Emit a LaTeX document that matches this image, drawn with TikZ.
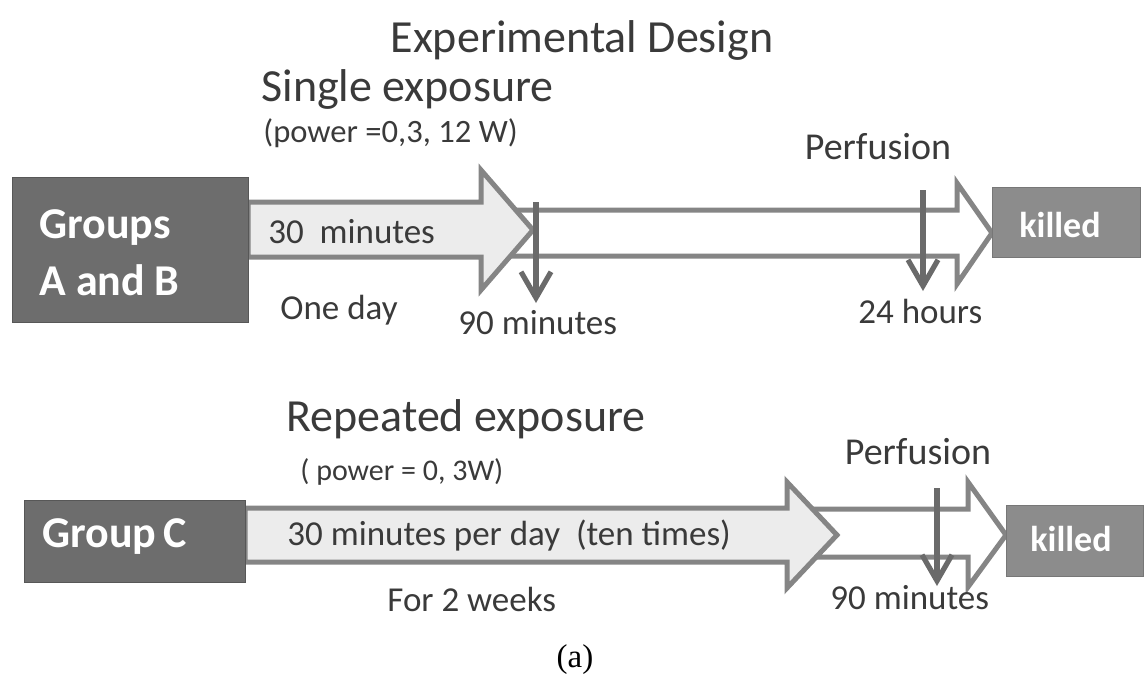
\documentclass[tikz,border=0pt]{standalone}
\usepackage{fontspec}
\setmainfont{Carlito}
\newfontfamily\timesfont{Liberation Serif}
\usetikzlibrary{arrows.meta}
\definecolor{boxdark}{HTML}{6D6D6D}
\definecolor{boxkill}{HTML}{8C8C8C}
\definecolor{arrline}{HTML}{858585}
\definecolor{arrfill}{HTML}{ECECEC}
\definecolor{txt}{HTML}{3A3A3A}
\definecolor{vline}{HTML}{6A6A6A}
\tikzset{
  groupbox/.style={fill=boxdark, draw=boxdark!80!black, line width=0.5pt, inner sep=0pt},
  killbox/.style={fill=boxkill, draw=boxkill!85!black, line width=0.5pt, inner sep=0pt},
  boxtext/.style={text=white, font=\bfseries\fontsize{22}{25}\selectfont, inner sep=0pt},
  killtext/.style={text=white, font=\bfseries\fontsize{18}{20}\selectfont, inner sep=0pt},
  bigarrow/.style={draw=arrline, line width=2.5pt, fill=arrfill, line join=miter},
  whitearrow/.style={draw=arrline, line width=2.5pt, fill=white, line join=miter},
  heading/.style={text=txt, font=\fontsize{23}{26}\selectfont, inner sep=0pt},
  label/.style={text=txt, font=\fontsize{17.5}{20}\selectfont, inner sep=0pt},
  perf/.style={text=txt, font=\fontsize{19}{22}\selectfont, inner sep=0pt},
  timearrow/.style={draw=vline, line width=2.6pt, -{Straight Barb[length=13pt,width=15pt,line width=2.6pt]}},
}
\begin{document}
\begin{tikzpicture}[x=0.5pt,y=-0.5pt]
\useasboundingbox (0,0) rectangle (1148,682);
% title
\node[heading] (title) at (582,40) {Experimental Design};
% ---------- single exposure ----------
\node[heading, anchor=west] (single) at (261,89) {Single exposure};
\node[text=txt, font=\fontsize{16.3}{18}\selectfont, inner sep=0pt, anchor=west] (pow1) at (263,133) {(power =0,3, 12 W)};
\node[perf] (perf1) at (878,147) {Perfusion};
% white arrow then grey arrow
\draw[whitearrow] (490,210) -- (957,210) -- (957,183) -- (992,233) -- (957,284) -- (957,256) -- (490,256) -- cycle;
\draw[bigarrow] (248,202) -- (481,202) -- (481,170) -- (533,230) -- (481,290) -- (481,257) -- (248,257) -- cycle;
\node[groupbox, minimum width=236*0.5pt, minimum height=145*0.5pt, anchor=north west] (gab) at (12,177) {};
\node[boxtext, anchor=west] (gabt1) at (39,228) {Groups};
\node[boxtext, anchor=west] (gabt2) at (39,280) {A and B};
\node[killbox, minimum width=148*0.5pt, minimum height=70*0.5pt, anchor=north west] (kill1) at (992,187) {};
\node[killtext] (kill1t) at (1060,225) {killed};
\node[label, anchor=west] (t30) at (268,232) {30~ minutes};
\node[label, anchor=west] (oneday) at (280,310) {One day};
\node[label, anchor=west] (m90a) at (458,323) {90 minutes};
\node[label, anchor=west] (h24) at (858,311) {24 hours};
\coordinate (v1s) at (536,202);
\coordinate (v1e) at (536,303);
\coordinate (v2s) at (923,190);
\coordinate (v2e) at (923,291);
\draw[timearrow] (v1s) -- (v1e);
\draw[timearrow] (v2s) -- (v2e);
% ---------- repeated exposure ----------
\node[heading, anchor=west] (rep) at (286,419) {Repeated exposure};
\node[text=txt, font=\fontsize{15}{18}\selectfont, inner sep=0pt, anchor=west] (pow2) at (300,472) {( power = 0, 3W)};
\node[perf] (perf2) at (918,452) {Perfusion};
\draw[whitearrow] (800,509) -- (968,509) -- (968,482) -- (1006,535) -- (968,587) -- (968,557) -- (800,557) -- cycle;
\draw[bigarrow] (245,508) -- (787,508) -- (787,482) -- (837,535) -- (787,588) -- (787,562) -- (245,562) -- cycle;
\node[groupbox, minimum width=221*0.5pt, minimum height=82*0.5pt, anchor=north west] (gc) at (24,500) {};
\node[boxtext, anchor=west] (gct) at (42,537) {Group\,C};
\node[killbox, minimum width=137*0.5pt, minimum height=71*0.5pt, anchor=north west] (kill2) at (1006,505) {};
\node[killtext] (kill2t) at (1071,539) {killed};
\node[label, anchor=west] (t30b) at (287,536) {30 minutes per day~ (ten times)};
\node[label, anchor=west] (weeks) at (387,599) {For 2 weeks};
\coordinate (v3s) at (937,488);
\coordinate (v3e) at (937,586);
\draw[timearrow] (v3s) -- (v3e);
\node[label, anchor=west] (m90b) at (830,598) {90 minutes};
% caption
\node[font=\timesfont\fontsize{16.5}{18}\selectfont, inner sep=0pt] (cap) at (575,660) {(a)};
\end{tikzpicture}
\end{document}
